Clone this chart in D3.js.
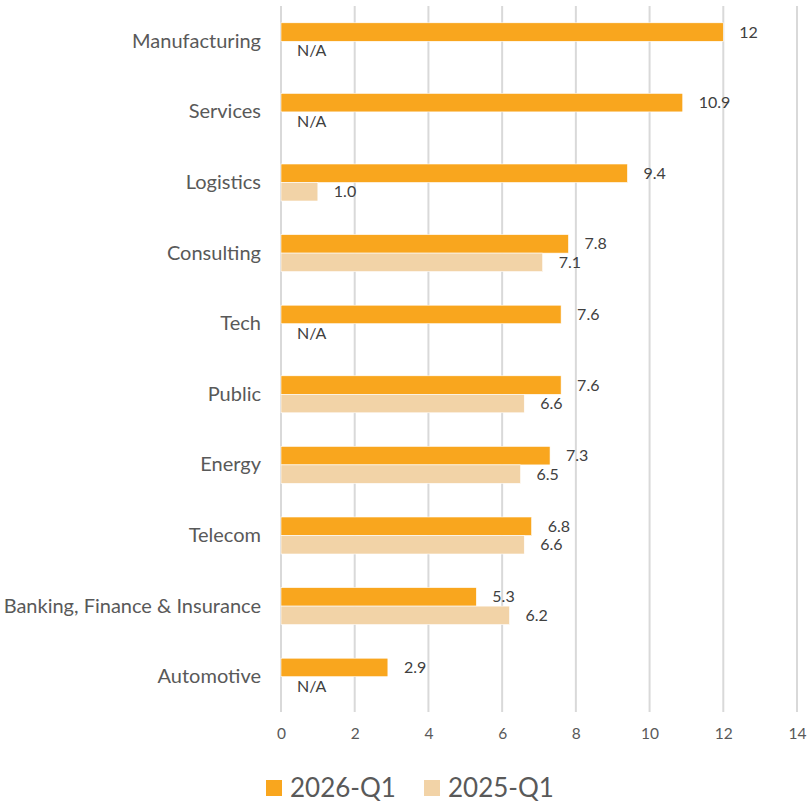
<!DOCTYPE html>
<html>
<head>
<meta charset="utf-8">
<script src="https://cdn.jsdelivr.net/npm/d3@7"></script>
<style>
  body { margin: 0; background: #fff; }
  text { font-family: Lato, "Open Sans", sans-serif; }
</style>
</head>
<body>
<div id="chart"></div>
<script>
// chart data
var categories = ["Manufacturing", "Services", "Logistics", "Consulting", "Tech",
  "Public", "Energy", "Telecom", "Banking, Finance & Insurance", "Automotive"];
var q1_2026 = [12, 10.9, 9.4, 7.8, 7.6, 7.6, 7.3, 6.8, 5.3, 2.9];
var q1_2025 = [null, null, 1.0, 7.1, null, 6.6, 6.5, 6.6, 6.2, null];
var seriesNames = ["2026-Q1", "2025-Q1"];
var xTicks = [0, 2, 4, 6, 8, 10, 12, 14];

var colors = ["#F9A61E", "#F2D3A7"];

var svgWidth = 807;
var svgHeight = 804;

var margin = { top: 6, right: 10, bottom: 92, left: 281 };
var width = 797 - margin.left;
var height = 712 - margin.top;

var svg = d3.select("#chart")
  .append("svg")
  .attr("width", svgWidth)
  .attr("height", svgHeight);

var chartGroup = svg.append("g")
  .attr("transform", `translate(${margin.left}, ${margin.top})`);

var xScale = d3.scaleLinear()
  .domain([0, 14])
  .range([0, width]);

var yScale = d3.scaleBand()
  .domain(categories)
  .range([0, height])
  .paddingInner(0.476)
  .paddingOuter(0.238);

var inner = d3.scaleBand()
  .domain([0, 1])
  .range([0, yScale.bandwidth()]);

// gridlines
chartGroup.selectAll(".grid")
  .data(xTicks)
  .enter()
  .append("line")
  .attr("x1", d => xScale(d))
  .attr("x2", d => xScale(d))
  .attr("y1", 0)
  .attr("y2", height)
  .attr("stroke", "#D9D9D9")
  .attr("stroke-width", 2);

// x axis labels
var xAxis = d3.axisBottom(xScale).tickValues(xTicks).tickSize(0).tickPadding(16);
var xg = chartGroup.append("g")
  .attr("transform", `translate(0, ${height})`)
  .call(xAxis);
xg.select(".domain").remove();
xg.selectAll("text")
  .attr("fill", "#595959")
  .style("font-size", "15.5px");

// category labels
var yAxis = d3.axisLeft(yScale).tickSize(0).tickPadding(20);
var yg = chartGroup.append("g").call(yAxis);
yg.select(".domain").remove();
yg.selectAll("text")
  .attr("fill", "#595959")
  .style("font-size", "20px");

var seriesData = [q1_2026, q1_2025];

seriesData.forEach(function(values, s) {
  var rows = categories.map(function(c, i) { return { cat: c, value: values[i] }; });

  chartGroup.selectAll(".bar" + s)
    .data(rows.filter(d => d.value !== null))
    .enter()
    .append("rect")
    .attr("x", xScale(0))
    .attr("y", d => yScale(d.cat) + inner(s))
    .attr("width", d => xScale(d.value) - xScale(0))
    .attr("height", inner.bandwidth())
    .attr("fill", colors[s])
    .attr("stroke", "#fff")
    .attr("stroke-width", 0.6);

  chartGroup.selectAll(".label" + s)
    .data(rows)
    .enter()
    .append("text")
    .attr("x", d => xScale(d.value === null ? 0 : d.value) + 16)
    .attr("y", d => yScale(d.cat) + inner(s) + inner.bandwidth() / 2)
    .attr("dy", "0.35em")
    .attr("fill", "#404040")
    .style("font-size", "16px")
    .text(function(d) {
      if (d.value === null) return "N/A";
      return s === 0 ? String(d.value) : d.value.toFixed(1);
    });
});

// legend
var legendX = [266, 424];
var legend = svg.selectAll(".legend")
  .data(seriesNames)
  .enter()
  .append("g")
  .attr("transform", (d, i) => `translate(${legendX[i]}, 788)`);

legend.append("rect")
  .attr("x", 0)
  .attr("y", -8)
  .attr("width", 16)
  .attr("height", 16)
  .attr("fill", (d, i) => colors[i]);

legend.append("text")
  .attr("x", 24)
  .attr("y", 0)
  .attr("dy", "0.36em")
  .attr("fill", "#595959")
  .style("font-size", "26px")
  .text(d => d);
</script>
</body>
</html>
